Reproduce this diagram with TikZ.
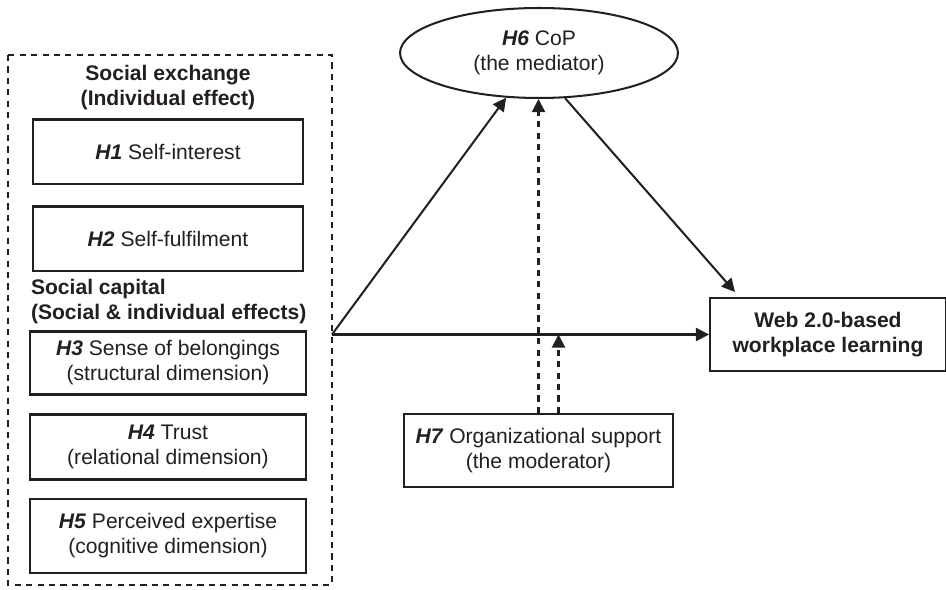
\documentclass[tikz,border=0pt]{standalone}
\usepackage{fontspec}
\setmainfont{Liberation Sans}
\usepackage{tikz}
\usetikzlibrary{arrows.meta,positioning,shapes.geometric}

\definecolor{ink}{HTML}{231F20}

\begin{document}
\begin{tikzpicture}[
    x = 0.02cm, y = -0.02cm, % one unit per pixel, y downwards
    > = {Triangle[length=7.5pt,width=7.5pt]}, % arrow head style
    every node/.style = {font=\fontsize{12}{14.2}\selectfont, text=ink},
    line width = 1.15pt, % line style
    draw = ink
    ]

    \tikzset{hbox/.style={
    draw = ink,
    line width = 1.15pt,
    align = center,
    inner sep = 0pt
    },
    title/.style={font=\fontsize{12}{14.2}\selectfont\bfseries},
    arrow/.style={->, draw=ink},
    darrow/.style={->, draw=ink, dash pattern=on 3.5pt off 3pt}
    }
    \useasboundingbox (0,0) rectangle (946,590);

    % dashed frame round H1--H5
    \draw[ink, dash pattern=on 3.5pt off 3pt] (8,55) rectangle (332,585);

    \node[title, align=center] (sx) at (168,88) {Social exchange\\(Individual effect)};
    \node[hbox, minimum width=5.4cm, minimum height=1.3cm] (h1) at (168,152)
        {\textbf{\textit{H1}} Self-interest};
    \node[hbox, minimum width=5.4cm, minimum height=1.3cm] (h2) at (168,239)
        {\textbf{\textit{H2}} Self-fulfilment};
    \node[title, align=left, anchor=west, inner sep=0pt] (sc) at (30,302)
        {Social capital\\(Social \& individual effects)};
    \node[hbox, minimum width=5.54cm, minimum height=1.26cm] (h3) at (168,363)
        {\textbf{\textit{H3}} Sense of belongings\\(structural dimension)};
    \node[hbox, minimum width=5.54cm, minimum height=1.3cm] (h4) at (168,447)
        {\textbf{\textit{H4}} Trust\\(relational dimension)};
    \node[hbox, minimum width=5.54cm, minimum height=1.48cm] (h5) at (168,536)
        {\textbf{\textit{H5}} Perceived expertise\\(cognitive dimension)};

    \node[ellipse, draw=ink, line width=1.15pt, minimum width=5.56cm, minimum height=1.8cm,
        inner sep=0pt, align=center] (cop) at (539,53)
        {\textbf{\textit{H6}} CoP\\(the mediator)};
    \node[hbox, minimum width=4.72cm, minimum height=1.46cm] (web) at (828,334.5)
        {\bfseries Web 2.0-based\\\bfseries workplace learning};
    \node[hbox, minimum width=5.38cm, minimum height=1.46cm] (org) at (538.5,450.5)
        {\textbf{\textit{H7}} Organizational support\\(the moderator)};

    \coordinate (jn) at (332,334.5);
    \coordinate (webin) at (735,292);

    \draw[arrow] (jn) -- (cop);
    \draw[arrow] (jn) -- (web.west);
    \draw[arrow] (cop.300) -- (webin);
    \draw[darrow] (org.north) -- (org.north |- cop.south);
    \draw[darrow] ([xshift=0.4cm]org.north) -- ([xshift=0.4cm]org.north |- jn);
\end{tikzpicture}
\end{document}
